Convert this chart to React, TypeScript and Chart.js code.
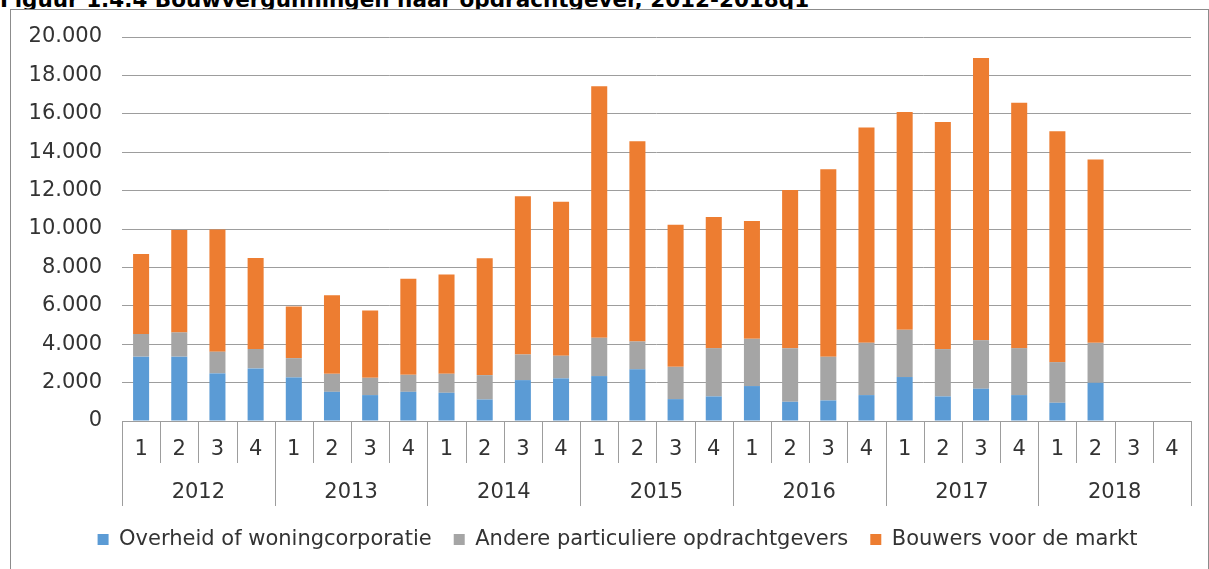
import React, { useEffect, useRef } from 'react';
import { Chart, registerables } from 'chart.js';

Chart.register(...registerables);

// ---- data ----
const years = ['2012', '2013', '2014', '2015', '2016', '2017', '2018'];
const quarters = ['1', '2', '3', '4'];
const overheid = [3350, 3350, 2480, 2740, 2270, 1520, 1350, 1520, 1470, 1120, 2130, 2220, 2340, 2690, 1140, 1280, 1820, 1000, 1070, 1350, 2290, 1280, 1680, 1350, 950, 1990, null, null];
const andere = [1180, 1265, 1130, 1010, 1005, 935, 900, 885, 990, 1270, 1335, 1180, 1995, 1455, 1680, 2515, 2460, 2795, 2275, 2720, 2460, 2465, 2530, 2445, 2115, 2080, null, null];
const markt = [4165, 5330, 6365, 4735, 2685, 4090, 3500, 5010, 5170, 6090, 8235, 8025, 13105, 10420, 7405, 6830, 6140, 8235, 9765, 11220, 11350, 11825, 14700, 12775, 12030, 9555, null, null];
const seriesNames = ['Overheid of woningcorporatie', 'Andere particuliere opdrachtgevers', 'Bouwers voor de markt'];
const yMax = 20000;
const yStep = 2000;
const title = 'Figuur 1.4.4 Bouwvergunningen naar opdrachtgever, 2012-2018q1';

const categories: string[] = [];
years.forEach((y) => quarters.forEach((q) => categories.push(y + ' ' + q)));

const FONT = "'DejaVu Sans', Verdana, sans-serif";
const TEXT = '#333333';
const LINE = '#9d9d9d';

const fmt = (v: number) => String(v).replace(/\B(?=(\d{3})+(?!\d))/g, '.');

const multiAxis = {
  id: 'multiAxis',
  afterLayout(chart: any) {
    if (chart.legend) chart.legend.left = chart.legend.left + 44;
  },
  afterDraw(chart: any) {
    const x = chart.scales.x;
    const ctx = chart.ctx;
    const y0 = x.top;
    const n = categories.length;
    const w = x.getPixelForValue(1) - x.getPixelForValue(0);
    const edge = (i: number) => x.getPixelForValue(0) - w / 2 + i * w;
    ctx.save();
    ctx.strokeStyle = LINE;
    ctx.lineWidth = 1;
    ctx.beginPath();
    for (let i = 0; i <= n; i++) {
      const xe = Math.round(edge(i)) + 0.5;
      const len = i % quarters.length === 0 ? 85 : 42;
      ctx.moveTo(xe, y0);
      ctx.lineTo(xe, y0 + len);
    }
    ctx.stroke();
    ctx.fillStyle = TEXT;
    ctx.font = '21px ' + FONT;
    ctx.textAlign = 'center';
    ctx.textBaseline = 'middle';
    for (let i = 0; i < n; i++) {
      ctx.fillText(quarters[i % quarters.length], x.getPixelForValue(i), y0 + 29);
    }
    years.forEach((yr, k) => {
      const cx = (edge(k * quarters.length) + edge((k + 1) * quarters.length)) / 2;
      ctx.fillText(yr, cx, y0 + 72);
    });
    ctx.restore();
  },
};

export default function App() {
  const ref = useRef<HTMLCanvasElement | null>(null);
  useEffect(() => {
    if (!ref.current) return;
    const chart = new Chart(ref.current, {
      type: 'bar',
      data: {
        labels: categories,
        datasets: [
          { label: seriesNames[0], data: overheid, backgroundColor: '#5b9bd5' },
          { label: seriesNames[1], data: andere, backgroundColor: '#a5a5a5' },
          { label: seriesNames[2], data: markt, backgroundColor: '#ed7d31' },
        ],
      },
      options: {
        responsive: false,
        animation: false,
        devicePixelRatio: 1,
        datasets: { bar: { categoryPercentage: 1, barPercentage: 0.42 } },
        layout: { padding: { left: 0, right: 18, top: 37, bottom: 9 } },
        scales: {
          x: {
            stacked: true,
            ticks: { display: false },
            grid: { display: false },
            border: { display: true, color: LINE },
            afterFit: (s: any) => { s.height = 86; },
          },
          y: {
            stacked: true,
            min: 0,
            max: yMax,
            ticks: {
              stepSize: yStep,
              padding: 20,
              color: TEXT,
              font: { family: FONT, size: 21 },
              callback: (v: any) => fmt(Number(v)),
            },
            grid: { color: LINE, drawTicks: false },
            border: { display: false },
            afterFit: (s: any) => { s.width = 122; },
          },
        },
        plugins: {
          legend: {
            position: 'bottom',
            labels: {
              boxWidth: 11,
              boxHeight: 11,
              padding: 22,
              color: TEXT,
              font: { family: FONT, size: 21 },
            },
          },
          tooltip: { enabled: false },
        },
      },
      plugins: [multiAxis],
    } as any);
    return () => chart.destroy();
  }, []);

  return (
    <div style={{ position: 'absolute', left: 0, top: 0, width: 1209, height: 569, overflow: 'hidden', background: '#fff' }}>
      <div style={{ position: 'absolute', left: 0, top: -11, font: `bold 21.5px ${FONT}`, lineHeight: '21px', whiteSpace: 'nowrap', color: '#000' }}>{title}</div>
      <div style={{ position: 'absolute', left: 10, top: 9, width: 1199, height: 700, boxSizing: 'border-box', border: '1px solid #8c8c8c', background: '#fff' }} />
      <canvas ref={ref} width={1209} height={569} style={{ position: 'absolute', left: 0, top: 0, display: 'block' }} />
    </div>
  );
}
